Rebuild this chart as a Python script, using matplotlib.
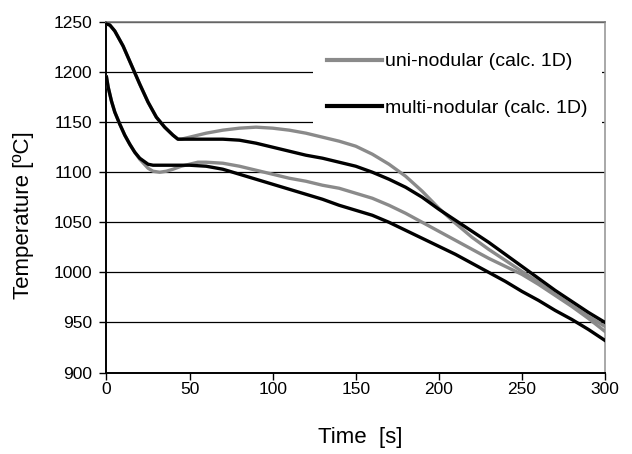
import matplotlib
matplotlib.use("Agg")
import matplotlib.pyplot as plt

plt.rcParams['font.family'] = ['Liberation Sans', 'DejaVu Sans']

# multi-nodular, upper curve (black)
t_multi_hi = [0, 2, 5, 10, 15, 20, 25, 30, 35, 40, 43, 50, 60, 70, 80, 90, 100, 110, 120, 130,
              140, 150, 160, 170, 180, 190, 200, 210, 220, 230, 240, 250, 260, 270, 280, 290, 300]
T_multi_hi = [1248, 1247, 1241, 1226, 1207, 1188, 1170, 1155, 1145, 1137, 1133, 1133, 1133, 1133, 1132,
              1129, 1125, 1121, 1117, 1114, 1110, 1106, 1100, 1093, 1085, 1075, 1063, 1052, 1041, 1030,
              1018, 1006, 994, 982, 971, 960, 950]

# uni-nodular, upper curve (grey)
t_uni_hi = [0, 2, 5, 10, 15, 20, 25, 30, 35, 40, 43, 45, 50, 60, 70, 80, 90, 100, 110, 120, 130,
            140, 150, 160, 170, 180, 190, 200, 210, 220, 230, 240, 250, 260, 270, 280, 290, 300]
T_uni_hi = [1248, 1247, 1241, 1226, 1207, 1188, 1170, 1155, 1145, 1137, 1133, 1133, 1135, 1139, 1142,
            1144, 1145, 1144, 1142, 1139, 1135, 1131, 1126, 1118, 1108, 1096, 1081, 1064, 1049, 1035,
            1023, 1012, 1001, 990, 978, 967, 956, 946]

# multi-nodular, lower curve (black)
t_multi_lo = [0, 1, 3, 5, 8, 11, 14, 17, 20, 25, 28, 40, 50, 60, 70, 80, 90, 100, 110, 120, 130,
              140, 150, 160, 170, 180, 190, 200, 210, 220, 230, 240, 250, 260, 270, 280, 290, 300]
T_multi_lo = [1195, 1185, 1171, 1160, 1148, 1137, 1128, 1120, 1114, 1108, 1107, 1107, 1107, 1106, 1103,
              1098, 1093, 1088, 1083, 1078, 1073, 1067, 1062, 1057, 1050, 1042, 1034, 1026, 1018, 1009,
              1000, 991, 981, 972, 962, 953, 943, 932]

# uni-nodular, lower curve (grey)
t_uni_lo = [0, 1, 3, 5, 8, 11, 14, 17, 20, 25, 28, 32, 36, 40, 45, 50, 55, 60, 70, 80, 90, 100, 110,
            120, 130, 140, 150, 160, 170, 180, 190, 200, 210, 220, 230, 240, 250, 260, 270, 280, 290, 300]
T_uni_lo = [1195, 1185, 1171, 1160, 1148, 1137, 1128, 1120, 1113, 1104, 1101, 1100, 1101, 1103, 1106,
            1108, 1110, 1110, 1109, 1106, 1102, 1098, 1094, 1091, 1087, 1084, 1079, 1074, 1067, 1059,
            1050, 1041, 1032, 1023, 1014, 1006, 998, 988, 977, 966, 954, 941]

x_ticks = [0, 50, 100, 150, 200, 250, 300]
y_ticks = [900, 950, 1000, 1050, 1100, 1150, 1200, 1250]

label_uni = "uni-nodular (calc. 1D)"
label_multi = "multi-nodular (calc. 1D)"

GREY = "#8a8a8a"

fig = plt.figure(figsize=(6.32, 4.54), dpi=100)
ax = fig.add_axes([0.1685, 0.1795, 0.7888, 0.772])

ax.plot(t_uni_hi, T_uni_hi, color=GREY, lw=2.4, label=label_uni, zorder=3)
ax.plot(t_uni_lo, T_uni_lo, color=GREY, lw=2.4, zorder=3)
ax.plot(t_multi_hi, T_multi_hi, color="black", lw=2.4, label=label_multi, zorder=4)
ax.plot(t_multi_lo, T_multi_lo, color="black", lw=2.4, zorder=4)

ax.set_xlim(0, 300)
ax.set_ylim(900, 1250)
ax.set_xticks(x_ticks)
ax.set_yticks(y_ticks)
ax.tick_params(axis='both', direction='out', length=5, width=1, labelsize=12.5, colors='black')
ax.tick_params(axis='y', pad=5)
ax.tick_params(axis='x', pad=2)

ax.yaxis.grid(True, color='black', lw=0.9, zorder=1)
ax.set_axisbelow(True)

for s in ['left', 'bottom']:
    ax.spines[s].set_color('black')
    ax.spines[s].set_linewidth(1.4)
ax.spines['right'].set_color('#9a9a9a')
ax.spines['right'].set_linewidth(1.2)
ax.spines['top'].set_color('#7a7a7a')
ax.spines['top'].set_linewidth(1.2)

ax.set_xlabel("Time  [s]", fontsize=16)
ax.set_ylabel("Temperature [ºC]", fontsize=16)
ax.xaxis.set_label_coords(0.51, -0.155)
ax.yaxis.set_label_coords(-0.145, 0.45)

leg = ax.legend(loc='upper left', bbox_to_anchor=(0.414, 0.954), frameon=True,
                fontsize=14, handlelength=2.8, handletextpad=0.15, labelspacing=1.5,
                borderpad=0.75, borderaxespad=0)
leg.get_frame().set_facecolor('white')
leg.get_frame().set_edgecolor('none')
leg.get_frame().set_alpha(1)
leg.get_frame().set_boxstyle('square', pad=0)
for h in leg.get_lines():
    h.set_linewidth(3)

fig.savefig("out.png", dpi=100)
